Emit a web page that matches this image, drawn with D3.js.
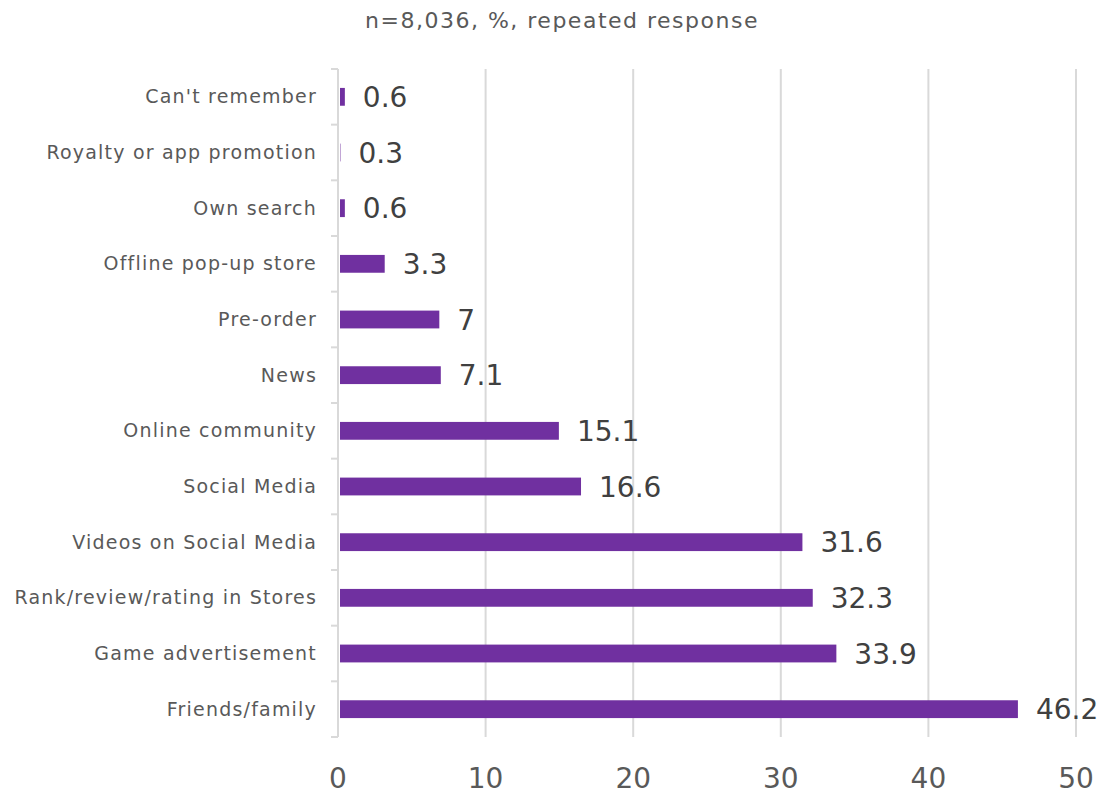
<!DOCTYPE html>
<html><head><meta charset="utf-8">
<script src="https://cdn.jsdelivr.net/npm/d3@7"></script>
<style>body{margin:0;background:#fff}svg{display:block}text{font-family:"DejaVu Sans",sans-serif}</style>
</head><body>
<script>
const categories = ["Can't remember","Royalty or app promotion","Own search","Offline pop-up store","Pre-order","News","Online community","Social Media","Videos on Social Media","Rank/review/rating in Stores","Game advertisement","Friends/family"];
const values = [0.6,0.3,0.6,3.3,7,7.1,15.1,16.6,31.6,32.3,33.9,46.2];
const xTicks = [0,10,20,30,40,50];
const title = "n=8,036, %, repeated response";

const W=1105,H=795;
const svg=d3.select("body").append("svg").attr("width",W).attr("height",H);
const x=d3.scaleLinear().domain([0,50]).range([338,1076]);
const y=d3.scaleBand().domain(categories).range([69,737]).paddingInner(0.68).paddingOuter(0.34);

svg.append("text").attr("x",562).attr("y",28).attr("text-anchor","middle").attr("font-size",22).attr("letter-spacing",1.5).attr("fill","#595959").text(title);

// gridlines
svg.append("g").selectAll("line").data(xTicks.slice(1)).join("line")
  .attr("x1",d=>x(d)).attr("x2",d=>x(d)).attr("y1",69).attr("y2",737)
  .attr("stroke","#d9d9d9").attr("stroke-width",2);

// x tick labels
svg.append("g").selectAll("text").data(xTicks).join("text")
  .attr("x",d=>x(d)).attr("y",788).attr("text-anchor","middle").attr("font-size",28).attr("fill","#595959").text(d=>d);

// y axis line and ticks
const step=y.step();
svg.append("line").attr("x1",338).attr("x2",338).attr("y1",69).attr("y2",737).attr("stroke","#d9d9d9").attr("stroke-width",2);
const bounds=d3.range(categories.length+1).map(i=>69+i*step);
svg.append("g").selectAll("line").data(bounds).join("line")
  .attr("x1",331).attr("x2",338).attr("y1",d=>d).attr("y2",d=>d).attr("stroke","#d9d9d9").attr("stroke-width",2);

// bars
svg.append("g").selectAll("rect").data(values).join("rect")
  .attr("x",x(0)+2).attr("y",(d,i)=>y(categories[i])).attr("height",y.bandwidth())
  .attr("width",d=>Math.max(0,x(d)-x(0)-4)).attr("fill","#7030A0");

// category labels
svg.append("g").selectAll("text").data(categories).join("text")
  .attr("x",317).attr("y",d=>y(d)+y.bandwidth()/2).attr("dy","0.35em").attr("text-anchor","end")
  .attr("font-size",19).attr("letter-spacing",1.2).attr("fill","#595959").text(d=>d);

// value labels
svg.append("g").selectAll("text").data(values).join("text")
  .attr("x",d=>x(d)+16).attr("y",(d,i)=>y(categories[i])+y.bandwidth()/2).attr("dy","0.36em")
  .attr("font-size",28).attr("fill","#404040").text(d=>d);
</script>
</body></html>
